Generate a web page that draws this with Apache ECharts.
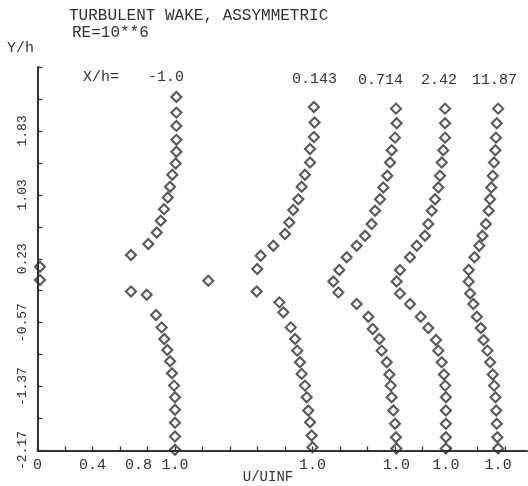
<!DOCTYPE html>
<html><head><meta charset="utf-8">
<script src="https://cdn.jsdelivr.net/npm/echarts@6/dist/echarts.min.js"></script>
<style>html,body{margin:0;padding:0;background:#fff}#c{width:528px;height:486px}</style>
</head><body><div id="c"></div>
<script>
// Stations X/h and horizontal offsets of each profile (U/UINF = 1 baseline at offset+1)
const stations = ['-1.0', '0.143', '0.714', '2.42', '11.87'];
const offsets = [0, 1.0, 1.61, 1.97, 2.35];

// [U/UINF, Y/h]
const p1 = [[1.01,2.255],[1.01,2.059],[1.01,1.893],[1.01,1.718],[1.01,1.568],[1.005,1.421],[0.98,1.28],[0.964,1.13],[0.947,0.996],[0.92,0.851],[0.896,0.705],[0.867,0.559],[0.806,0.414],[0.68,0.276],[0.018,0.13],[0.018,-0.036],[1.242,-0.045],[0.68,-0.179],[0.794,-0.22],[0.862,-0.474],[0.903,-0.629],[0.922,-0.774],[0.944,-0.911],[0.964,-1.054],[0.978,-1.204],[0.993,-1.358],[1.0,-1.504],[1.0,-1.661],[1.0,-1.824],[1.0,-1.995],[1.0,-2.161]];
const p2 = [[1.01,2.13],[1.015,1.934],[1.01,1.755],[0.982,1.605],[0.982,1.434],[0.945,1.28],[0.921,1.13],[0.897,0.976],[0.86,0.839],[0.831,0.684],[0.8,0.539],[0.715,0.393],[0.623,0.268],[0.598,0.101],[0.594,-0.179],[0.759,-0.316],[0.788,-0.441],[0.842,-0.629],[0.873,-0.774],[0.889,-0.92],[0.909,-1.066],[0.921,-1.211],[0.945,-1.358],[0.958,-1.504],[0.969,-1.67],[0.982,-1.816],[0.994,-1.983],[1.0,-2.129]];
const p3 = [[0.997,2.109],[1.002,1.926],[0.99,1.746],[0.966,1.589],[0.954,1.434],[0.934,1.268],[0.905,1.121],[0.881,0.976],[0.845,0.83],[0.82,0.664],[0.772,0.518],[0.711,0.393],[0.639,0.249],[0.585,0.089],[0.541,-0.054],[0.578,-0.191],[0.711,-0.336],[0.796,-0.495],[0.828,-0.649],[0.876,-0.774],[0.893,-0.92],[0.93,-1.066],[0.949,-1.22],[0.959,-1.358],[0.966,-1.504],[0.978,-1.67],[0.99,-1.836],[0.997,-2.004],[1.0,-2.145]];
const p4 = [[0.994,2.109],[0.994,1.926],[0.994,1.746],[0.981,1.589],[0.97,1.434],[0.957,1.268],[0.945,1.121],[0.921,0.976],[0.897,0.83],[0.872,0.664],[0.848,0.518],[0.788,0.393],[0.739,0.249],[0.666,0.089],[0.642,-0.054],[0.666,-0.204],[0.739,-0.336],[0.817,-0.495],[0.872,-0.636],[0.928,-0.786],[0.945,-0.92],[0.97,-1.066],[0.986,-1.22],[0.995,-1.358],[1.0,-1.504],[1.0,-1.67],[1.0,-1.836],[1.0,-2.004],[1.0,-2.145]];
const p5 = [[1.0,2.109],[0.99,1.926],[0.984,1.746],[0.98,1.589],[0.97,1.434],[0.961,1.268],[0.95,1.121],[0.941,0.976],[0.931,0.83],[0.911,0.664],[0.886,0.518],[0.863,0.393],[0.828,0.249],[0.786,0.089],[0.786,-0.054],[0.796,-0.204],[0.82,-0.336],[0.845,-0.495],[0.874,-0.636],[0.894,-0.786],[0.922,-0.92],[0.942,-1.066],[0.961,-1.22],[0.971,-1.358],[0.981,-1.504],[0.986,-1.67],[0.99,-1.836],[0.994,-2.004],[1.0,-2.145]];
const profiles = [p1, p2, p3, p4, p5];

// Axes
const yMin = -2.17, yMax = 2.63, yStep = 0.4;
const xMin = 0, xMax = 3.56, xStep = 0.2, xTickLast = 3.4;
const xLabelValues = [0, 0.4, 0.8, 1.0];
const xLabelTexts = ['0', '0.4', '0.8  ', '1.0'];
const baselineLabel = '1.0';

const INK = '#333333';
const FONT = '"Liberation Mono", "DejaVu Sans Mono", monospace';

const labelVals = xLabelValues.concat(offsets.slice(1).map(o => +(o + 1).toFixed(3)));
const labelTxts = xLabelTexts.concat(offsets.slice(1).map(() => baselineLabel));
const tickVals = [];
for (let k = 0; xMin + k * xStep <= xTickLast + 1e-9; k++) tickVals.push(+(xMin + k * xStep).toFixed(3));

const series = profiles.map((p, i) => ({
  type: 'scatter',
  name: stations[i],
  data: p.map(([u, y]) => [offsets[i] + u, y]),
  symbol: 'diamond',
  symbolSize: 10,
  itemStyle: { color: 'rgba(0,0,0,0)', borderColor: '#2e2e2e', borderWidth: 2.1 },
  emphasis: { disabled: true },
  silent: true,
  z: 3
}));

const txt = (x, y, text, size, align) => ({
  type: 'text', x: x, y: y, silent: true,
  style: { text: text, fill: INK, font: size + 'px ' + FONT, textAlign: align || 'left', textVerticalAlign: 'middle' }
});

const chart = echarts.init(document.getElementById('c'), null, { renderer: 'canvas' });
chart.setOption({
  backgroundColor: '#ffffff',
  animation: false,
  grid: { left: 37.5, right: 1, top: 67, bottom: 35.5, containLabel: false, outerBoundsMode: 'none' },
  xAxis: {
    type: 'value', min: xMin, max: xMax, interval: xStep,
    axisLine: { show: true, onZero: false, lineStyle: { color: INK, width: 2 } },
    axisTick: { show: true, inside: true, length: 4, customValues: tickVals, lineStyle: { color: INK, width: 1.3 } },
    axisLabel: {
      customValues: labelVals, margin: 7, color: INK, fontFamily: FONT, fontSize: 15,
      formatter: function (v) {
        let best = 0, d = 1e9;
        labelVals.forEach((lv, j) => { if (Math.abs(lv - v) < d) { d = Math.abs(lv - v); best = j; } });
        return labelTxts[best];
      }
    },
    splitLine: { show: false }
  },
  yAxis: {
    type: 'value', min: yMin, max: yMax, interval: yStep,
    axisLine: { show: true, onZero: false, lineStyle: { color: INK, width: 2 } },
    axisTick: { show: true, inside: true, length: 5, lineStyle: { color: INK, width: 1.3 } },
    axisLabel: {
      rotate: 90, margin: 8, color: INK, fontFamily: FONT, fontSize: 13,
      formatter: function (v) {
        const k = Math.round((v - yMin) / yStep);
        if (k % 2 === 1 || v > yMax - 0.01) return '';
        return v.toFixed(2);
      }
    },
    splitLine: { show: false }
  },
  series: series,
  graphic: [
    txt(69, 15.5, 'TURBULENT WAKE, ASSYMMETRIC', 16),
    txt(72, 33, 'RE=10**6', 16),
    txt(7, 48, 'Y/h', 15),
    txt(83, 77, 'X/h=', 15),
    txt(148, 77, stations[0], 15),
    txt(292, 79, stations[1], 15),
    txt(358, 80, stations[2], 15),
    txt(421, 80, stations[3], 15),
    txt(472, 80, stations[4], 15),
    txt(268, 477, 'U/UINF', 14, 'center')
  ]
});
</script></body></html>
